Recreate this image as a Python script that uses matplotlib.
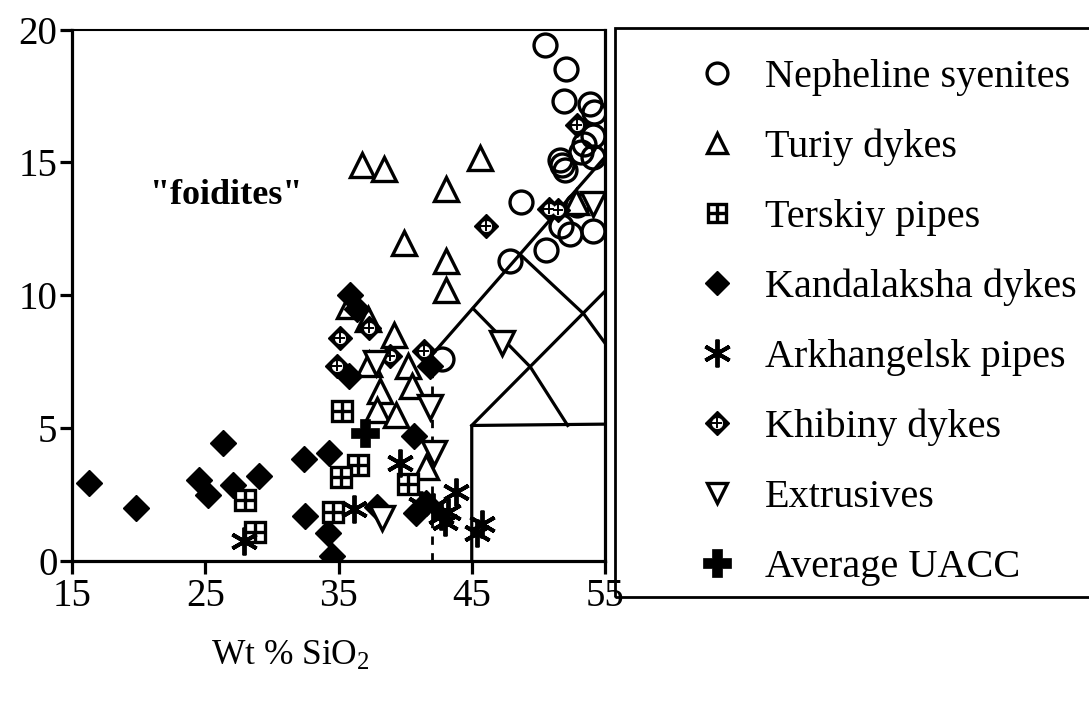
import matplotlib
matplotlib.use("Agg")
import matplotlib.pyplot as plt
from matplotlib.lines import Line2D
from matplotlib.patches import Rectangle
from matplotlib.legend_handler import HandlerLine2D, HandlerTuple

plt.rcParams['font.family'] = ['Liberation Serif', 'DejaVu Serif']
plt.rcParams['mathtext.fontset'] = 'custom'
plt.rcParams['mathtext.rm'] = 'Liberation Serif'
plt.rcParams['mathtext.it'] = 'Liberation Serif:italic'

# ---------------- data (Wt % SiO2, Na2O+K2O) ----------------
neph_x = [50.5, 52.1, 51.9, 53.9, 54.2, 54.1, 53.2, 53.4, 54.1, 51.6, 51.8, 52.0,
          48.7, 52.9, 51.7, 52.4, 54.1, 50.6, 47.9, 42.8]
neph_y = [19.4, 18.5, 17.3, 17.2, 16.9, 16.0, 15.4, 15.7, 15.2, 15.1, 14.9, 14.7,
          13.5, 13.4, 12.6, 12.3, 12.4, 11.7, 11.3, 7.6]

turiy_x = [36.8, 38.4, 45.6, 43.1, 39.9, 43.1, 43.1, 35.8, 37.2, 39.2, 37.3, 40.2,
           40.5, 38.1, 37.9, 39.3, 41.6, 52.8]
turiy_y = [14.9, 14.75, 15.15, 14.0, 11.95, 11.3, 10.2, 9.6, 9.1, 8.5, 7.4, 7.35,
           6.6, 6.4, 5.7, 5.5, 3.55, 13.5]

tersk_x = [35.3, 36.5, 35.2, 28.0, 28.7, 34.6, 40.2]
tersk_y = [5.65, 3.6, 3.15, 2.3, 1.1, 1.85, 2.9]

kanda_x = [16.3, 19.8, 24.5, 25.2, 26.3, 27.1, 29.0, 32.4, 32.5, 34.3, 34.2, 34.5,
           35.9, 36.4, 35.8, 37.9, 40.7, 40.8, 41.9, 41.6]
kanda_y = [2.95, 2.0, 3.05, 2.5, 4.45, 2.85, 3.2, 3.85, 1.7, 4.05, 1.05, 0.2,
           10.0, 9.5, 6.95, 2.05, 4.7, 1.8, 7.35, 2.2]

arkh_x = [27.9, 36.2, 39.6, 41.2, 42.1, 42.7, 43.2, 43.0, 43.8, 45.8, 45.4]
arkh_y = [0.75, 1.95, 3.7, 2.1, 2.05, 1.7, 1.85, 1.45, 2.6, 1.4, 1.05]

khib_x = [35.1, 34.9, 37.3, 38.9, 41.4, 46.1, 50.8, 51.5, 52.9]
khib_y = [8.4, 7.35, 8.75, 7.7, 7.9, 12.6, 13.25, 13.2, 16.4]

extr_x = [41.9, 42.2, 38.3, 47.3, 54.1, 37.8]
extr_y = [5.8, 4.05, 1.6, 8.2, 13.45, 7.45]

uacc_x = [37.0]
uacc_y = [4.8]

# field boundaries
bnd_main_x = [42.0, 55.0]
bnd_main_y = [7.75, 15.2]
bnd_a_x = [45.1, 49.4, 52.2]
bnd_a_y = [9.5, 7.3, 5.1]
bnd_b_x = [48.6, 53.4, 55.0]
bnd_b_y = [11.55, 9.3, 8.2]
bnd_c_x = [45.0, 55.0]
bnd_c_y = [5.1, 10.15]
bnd_box_x = [45.0, 45.0, 55.0]
bnd_box_y = [0.0, 5.1, 5.15]
bnd_dash_x = [42.0, 42.0]
bnd_dash_y = [0.0, 7.6]

labels = ["Nepheline syenites", "Turiy dykes", "Terskiy pipes", "Kandalaksha dykes",
          "Arkhangelsk pipes", "Khibiny dykes", "Extrusives", "Average UACC"]

xticks = [15, 25, 35, 45, 55]
yticks = [0, 5, 10, 15, 20]

# ---------------- figure ----------------
W, H = 1089, 708
fig = plt.figure(figsize=(W / 100, H / 100), dpi=100)
ax = fig.add_axes([72 / W, 1 - 561 / H, 533 / W, 531.5 / H])
ax.set_xlim(15, 55)
ax.set_ylim(0, 20)

lw_b = 2.3
ax.plot(bnd_main_x, bnd_main_y, color='black', lw=lw_b, zorder=1)
ax.plot(bnd_a_x, bnd_a_y, color='black', lw=lw_b, zorder=1)
ax.plot(bnd_b_x, bnd_b_y, color='black', lw=lw_b, zorder=1)
ax.plot(bnd_c_x, bnd_c_y, color='black', lw=lw_b, zorder=1)
ax.plot(bnd_box_x, bnd_box_y, color='black', lw=lw_b, zorder=1)
ax.plot(bnd_dash_x, bnd_dash_y, color='black', lw=2.0, ls=(0, (3, 3)), zorder=1)

mew = 2.4
st_neph = dict(ls='none', marker='o', ms=16.5, mfc='none', mec='black', mew=mew)
st_turiy = dict(ls='none', marker='^', ms=17.5, mfc='white', mec='black', mew=mew)
st_tersk_s = dict(ls='none', marker='s', ms=14.5, mfc='white', mec='black', mew=mew)
st_tersk_p = dict(ls='none', marker='+', ms=14.5, mec='black', mew=mew)
st_kanda = dict(ls='none', marker='D', ms=13, mfc='black', mec='black', mew=1)
st_arkh = dict(ls='none', marker=(6, 2, 0), ms=20, mec='black', mew=2.8)
st_khib_d = dict(ls='none', marker='D', ms=12.5, mfc='black', mec='black', mew=1)
st_khib_o = dict(ls='none', marker='o', ms=7.5, mfc='white', mec='white', mew=0.5)
st_khib_p = dict(ls='none', marker='+', ms=6.5, mec='black', mew=1.4)
st_extr = dict(ls='none', marker='v', ms=17.5, mfc='white', mec='black', mew=mew)
st_uacc = dict(ls='none', marker='P', ms=20, mfc='black', mec='black', mew=0.5)

ax.plot(neph_x, neph_y, **st_neph, zorder=3)
ax.plot(turiy_x, turiy_y, **st_turiy, zorder=3)
ax.plot(kanda_x, kanda_y, **st_kanda, zorder=3)
ax.plot(khib_x, khib_y, **st_khib_d, zorder=3)
ax.plot(khib_x, khib_y, **st_khib_o, zorder=3)
ax.plot(khib_x, khib_y, **st_khib_p, zorder=3)
ax.plot(tersk_x, tersk_y, **st_tersk_s, zorder=3)
ax.plot(tersk_x, tersk_y, **st_tersk_p, zorder=3)
ax.plot(extr_x, extr_y, **st_extr, zorder=3)
ax.plot(arkh_x, arkh_y, **st_arkh, zorder=4)
ax.plot(uacc_x, uacc_y, **st_uacc, zorder=4)

ax.text(26.6, 13.75, '"foidites"', fontsize=26, fontweight='bold',
        ha='center', va='center')

# axes styling
for side in ['left', 'bottom', 'right']:
    ax.spines[side].set_linewidth(2.3)
ax.spines['top'].set_linewidth(1.5)
ax.set_xticks(xticks)
ax.set_yticks(yticks)
ax.tick_params(axis='both', direction='out', length=9, width=2.3, labelsize=28)
ax.tick_params(axis='x', pad=3)
ax.tick_params(axis='y', pad=1.5)

ax.set_xlabel(r'Wt % SiO$_2$', fontsize=25.5)
ax.xaxis.set_label_coords(0.409, -0.18)
ax.xaxis.label.set_va('center')

# legend (frame drawn separately as a plain box)
fig.patches.append(Rectangle((615 / W, 1 - 597 / H), 0.5, (597 - 28) / H,
                             transform=fig.transFigure, fill=False,
                             lw=2.0, ec='black', zorder=0))
fs = 29
hA = Line2D([], [], **{**st_neph, 'ms': 15})
hB = Line2D([], [], **{**st_turiy, 'ms': 14})
hC = (Line2D([], [], **{**st_tersk_s, 'ms': 12.5}), Line2D([], [], **{**st_tersk_p, 'ms': 12.5}))
hD = Line2D([], [], **{**st_kanda, 'ms': 12.5})
hE = Line2D([], [], **st_arkh)
hF = (Line2D([], [], **st_khib_d), Line2D([], [], **st_khib_o), Line2D([], [], **st_khib_p))
hG = Line2D([], [], **{**st_extr, 'ms': 14})
hH = Line2D([], [], **st_uacc)
handles = [hA, hB, hC, hD, hE, hF, hG, hH]

xpad = 1.16
leg = fig.legend(handles, labels, loc='upper left',
                 bbox_to_anchor=(615 / W, 1 - 33 / H),
                 fontsize=fs, frameon=False,
                 borderpad=0.65, labelspacing=0.81,
                 handlelength=2.6, handletextpad=0.47, borderaxespad=0,
                 handler_map={Line2D: HandlerLine2D(numpoints=1, xpad=xpad),
                              tuple: HandlerTuple(ndivide=1, xpad=xpad)})

fig.savefig('out.png', dpi=100)
